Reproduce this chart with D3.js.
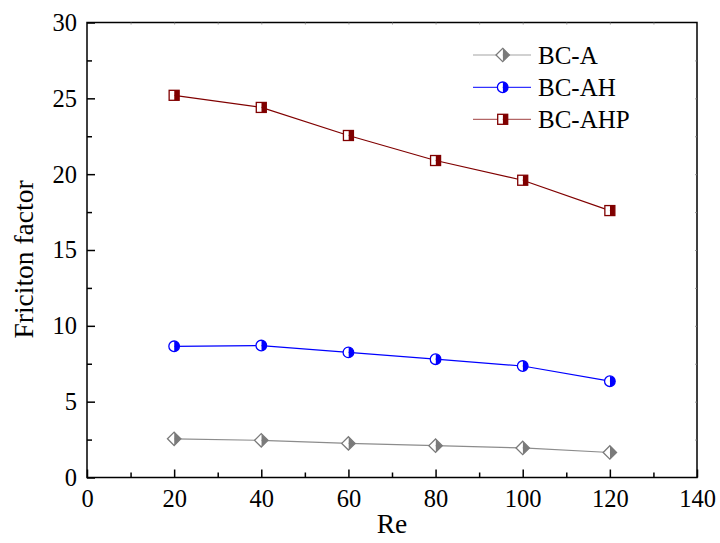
<!DOCTYPE html>
<html>
<head>
<meta charset="utf-8">
<script src="https://cdn.jsdelivr.net/npm/d3@7"></script>
<style>
  body { margin: 0; background: #fff; }
  text { font-family: "Liberation Serif", "Times New Roman", serif; fill: #000; }
</style>
</head>
<body>
<div id="chart-area"></div>
<script>
var re = [20, 40, 60, 80, 100, 120];
var bcA = [2.55, 2.45, 2.25, 2.1, 1.95, 1.65];
var bcAH = [8.65, 8.7, 8.25, 7.8, 7.35, 6.35];
var bcAHP = [25.2, 24.4, 22.55, 20.9, 19.6, 17.6];
var seriesNames = ["BC-A", "BC-AH", "BC-AHP"];
var xTicks = [0, 20, 40, 60, 80, 100, 120, 140];
var yTicks = [0, 5, 10, 15, 20, 25, 30];

var svg_width = 720;
var svg_height = 543;
var pLeft = 87, pRight = 697, pTop = 22.5, pBottom = 477.5;

var series = [
    { name: seriesNames[0], values: bcA, line: "#8c8c8c", stroke: "#7a7a7a", fill: "#7a7a7a", shape: "diamond" },
    { name: seriesNames[1], values: bcAH, line: "#0000ff", stroke: "#0000ff", fill: "#0000ff", shape: "circle" },
    { name: seriesNames[2], values: bcAHP, line: "#800000", stroke: "#800000", fill: "#800000", shape: "square" }
];

var x = d3.scaleLinear().domain([0, 140]).range([pLeft, pRight]);
var y = d3.scaleLinear().domain([0, 30]).range([pBottom, pTop]);

var svg = d3.select("#chart-area").append("svg")
    .attr("width", svg_width)
    .attr("height", svg_height);

// frame
svg.append("rect")
    .attr("x", pLeft).attr("y", pTop)
    .attr("width", pRight - pLeft).attr("height", pBottom - pTop)
    .attr("fill", "none").attr("stroke", "#000").attr("stroke-width", 1.5);

// bottom axis (ticks inward)
var xAxis = svg.append("g")
    .attr("transform", "translate(0," + pBottom + ")")
    .call(d3.axisBottom(x).tickValues(xTicks).tickSize(-8).tickPadding(29));
var xMinor = svg.append("g")
    .attr("transform", "translate(0," + pBottom + ")")
    .call(d3.axisBottom(x).tickValues(d3.range(10, 140, 20)).tickSize(-5).tickFormat(""));

var yAxis = svg.append("g")
    .attr("transform", "translate(" + pLeft + ",0)")
    .call(d3.axisLeft(y).tickValues(yTicks).tickSize(-8).tickPadding(10));
var yMinor = svg.append("g")
    .attr("transform", "translate(" + pLeft + ",0)")
    .call(d3.axisLeft(y).tickValues(d3.range(2.5, 30, 5)).tickSize(-5).tickFormat(""));

// faint ticks on top and right
var xTop = svg.append("g")
    .attr("transform", "translate(0," + pTop + ")")
    .call(d3.axisTop(x).tickValues(d3.range(10, 140, 10)).tickSize(-2).tickFormat(""));
var yRight = svg.append("g")
    .attr("transform", "translate(" + pRight + ",0)")
    .call(d3.axisRight(y).tickValues(d3.range(2.5, 30, 2.5)).tickSize(-2).tickFormat(""));

[xAxis, xMinor, yAxis, yMinor, xTop, yRight].forEach((g)=> {
    g.select(".domain").remove();
    g.selectAll(".tick line").attr("stroke", "#000").attr("stroke-width", 1.5);
    g.selectAll(".tick text").style("font-size", "24.5px").style("font-family", "Liberation Serif");
});
xTop.selectAll(".tick line").attr("stroke-width", 0.8).attr("stroke", "#888");
yRight.selectAll(".tick line").attr("stroke-width", 0.8).attr("stroke", "#888");
xAxis.selectAll(".tick text").attr("dy", "0");

// axis titles
svg.append("text")
    .attr("x", (pLeft + pRight) / 2).attr("y", 533)
    .attr("text-anchor", "middle")
    .style("font-size", "27.5px")
    .text("Re");
svg.append("text")
    .attr("transform", "translate(33,259.5) rotate(-90)")
    .attr("text-anchor", "middle")
    .style("font-size", "27.5px")
    .text("Friciton factor");

// half-filled marker
function drawMarker(g, s, cx, cy) {
    if (s.shape === "diamond") {
        var r = 6.7;
        var pts = [[cx, cy - r], [cx + r, cy], [cx, cy + r], [cx - r, cy]];
        g.append("path").attr("d", "M" + cx + "," + (cy - r) + "L" + (cx + r) + "," + cy + "L" + cx + "," + (cy + r) + "Z")
            .attr("fill", s.fill);
        g.append("path").attr("d", "M" + cx + "," + (cy - r) + "L" + (cx - r) + "," + cy + "L" + cx + "," + (cy + r) + "Z")
            .attr("fill", "#fff");
        g.append("polygon").attr("points", pts.map((p)=> p.join(",")).join(" "))
            .attr("fill", "none").attr("stroke", s.stroke).attr("stroke-width", 1.3);
    } else if (s.shape === "circle") {
        var rc = 5.3;
        g.append("path")
            .attr("d", "M" + cx + "," + (cy - rc) + "A" + rc + "," + rc + " 0 0,1 " + cx + "," + (cy + rc) + "Z")
            .attr("fill", s.fill);
        g.append("path")
            .attr("d", "M" + cx + "," + (cy - rc) + "A" + rc + "," + rc + " 0 0,0 " + cx + "," + (cy + rc) + "Z")
            .attr("fill", "#fff");
        g.append("circle").attr("cx", cx).attr("cy", cy).attr("r", rc)
            .attr("fill", "none").attr("stroke", s.stroke).attr("stroke-width", 1.3);
    } else {
        var h = 5;
        g.append("rect").attr("x", cx).attr("y", cy - h).attr("width", h).attr("height", 2 * h).attr("fill", s.fill);
        g.append("rect").attr("x", cx - h).attr("y", cy - h).attr("width", h).attr("height", 2 * h).attr("fill", "#fff");
        g.append("rect").attr("x", cx - h).attr("y", cy - h).attr("width", 2 * h).attr("height", 2 * h)
            .attr("fill", "none").attr("stroke", s.stroke).attr("stroke-width", 1.3);
    }
}

var line = d3.line()
    .x((d, i)=> x(re[i]))
    .y((d)=> y(d));

series.forEach((s)=> {
    svg.append("path")
        .datum(s.values)
        .attr("d", line)
        .attr("fill", "none")
        .attr("stroke", s.line)
        .attr("stroke-width", 1.2);
    var g = svg.append("g");
    s.values.forEach((v, i)=> {
        drawMarker(g, s, x(re[i]), y(v));
    });
});

// legend
var legendY = [55, 87.3, 119.3];
series.forEach((s, i)=> {
    var g = svg.append("g");
    var ly = legendY[i];
    g.append("line")
        .attr("x1", 473).attr("x2", 531).attr("y1", ly).attr("y2", ly)
        .attr("stroke", s.line).attr("stroke-width", 1.2).attr("stroke-opacity", i === 2 ? 0.6 : 0.8);
    drawMarker(g, s, 502.7, ly);
    g.append("text")
        .attr("x", 538).attr("y", ly + 9)
        .style("font-size", "25px")
        .text(s.name);
});
</script>
</body>
</html>
